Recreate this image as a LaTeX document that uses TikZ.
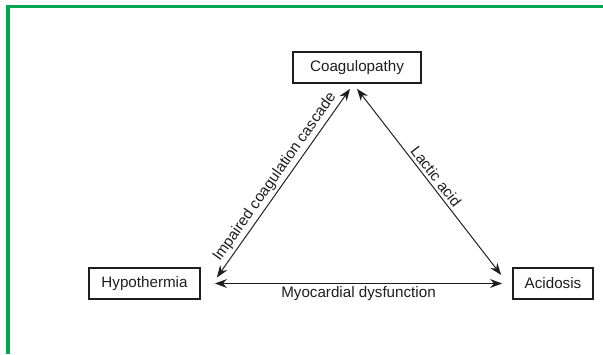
\documentclass[tikz,border=0pt]{standalone}
\usepackage{fontspec}
\setmainfont{Liberation Sans}
\usetikzlibrary{positioning,arrows.meta,calc}
\definecolor{frameGreen}{HTML}{00A651}
\definecolor{inkGray}{HTML}{1E1E1E}
\tikzset{
  cbox/.style={draw=inkGray,line width=1.2pt,text=inkGray,minimum height=0.775cm,inner sep=3pt,font=\fontsize{10.8}{13}\selectfont},
  arr/.style={{Stealth[length=3mm,width=2.2mm]}-{Stealth[length=3mm,width=2.2mm]},line width=0.7pt,draw=inkGray},
  lbl/.style={text=inkGray,font=\fontsize{10.8}{13}\selectfont,inner sep=2pt},
}
\begin{document}
\begin{tikzpicture}[x=0.025cm,y=0.025cm]
\useasboundingbox (0,0) rectangle (603,354);
\draw[frameGreen,line width=2.5pt] (8,0) -- (8,347.5) -- (603,347.5);
% the three states
\node[cbox, minimum width=3.2cm] (coag) at (357,286.5) {Coagulopathy};
\node[cbox, minimum width=2.775cm] (hypo) at (144.5,70.5) {Hypothermia};
\node[cbox, minimum width=2cm] (acid) at (553,70.5) {Acidosis};
% links
\draw[arr] ($(hypo.east)+(16,6)$) -- node[lbl,midway,above,sloped] {Impaired coagulation cascade} ($(coag.south)+(-7,-5)$);
\draw[arr] ($(coag.south)+(0,-5)$) -- node[lbl,midway,above,sloped] {Lactic acid} ($(acid.west)+(-11,8.5)$);
\draw[arr] ($(hypo.east)+(14,0)$) -- node[lbl,midway,below] {Myocardial dysfunction} ($(acid.west)+(-10,0)$);
\end{tikzpicture}
\end{document}
